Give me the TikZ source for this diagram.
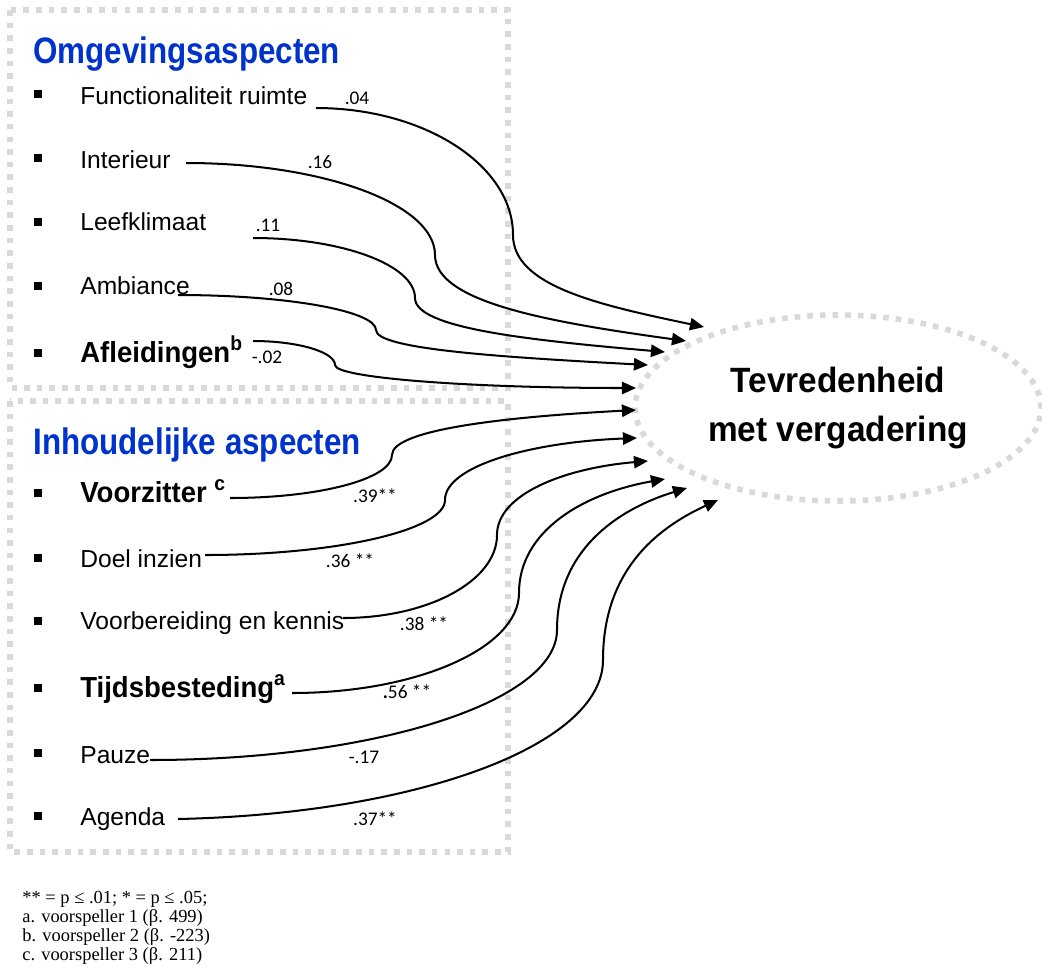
\documentclass[tikz,border=0pt]{standalone}
\usepackage{fontspec}
\setmainfont{Liberation Sans}
\newfontfamily\headfont[FakeStretch=0.85]{Liberation Sans}
\newfontfamily\strongfont[FakeStretch=0.95]{Liberation Sans}
\newfontfamily\coeffont{Carlito}
\newfontfamily\notefont{Liberation Serif}
\usepackage{tikz}
\usetikzlibrary{shapes,arrows.meta,positioning}
\definecolor{dotgray}{RGB}{217,217,217}
\definecolor{headblue}{RGB}{0,51,204}

\begin{document}
\begin{tikzpicture}[x=0.02cm, y=0.02cm,
    box/.style={draw=dotgray, line width=3.2pt, dash pattern=on 3.2pt off 4pt},
    heading/.style={anchor=base west, inner sep=0, text=headblue, font=\headfont\bfseries\fontsize{21}{25}\selectfont},
    item/.style={anchor=base west, inner sep=0, font=\fontsize{14}{17}\selectfont},
    bolditem/.style={item, font=\strongfont\bfseries\fontsize{16.5}{19}\selectfont},
    bullet/.style={rectangle, fill=black, minimum size=4.5pt, inner sep=0},
    coef/.style={anchor=base, inner sep=0, font=\coeffont\fontsize{11}{13}\selectfont},
    arrow/.style={-{Triangle[length=8pt,width=7pt]}, line width=1.15pt}
]
    \useasboundingbox (0,0) rectangle (1042,-968);

    % Boxes
    \draw[box] (10,-10) rectangle (508,-388);
    \draw[box] (10,-401) rectangle (508,-852);

    % Outcome
    \node[ellipse, box, minimum width=8.12cm, minimum height=3.72cm, inner sep=0, align=center,
          font=\strongfont\bfseries\fontsize{20}{28}\selectfont] (tev) at (838,-408) {Tevredenheid\\met vergadering};

    % Omgevingsaspecten
    \node[heading] (omg) at (33,-63) {Omgevingsaspecten};
    \node[bullet] (b1) at (38,-94) {};
    \node[bullet] (b2) at (38,-158) {};
    \node[bullet] (b3) at (38,-222) {};
    \node[bullet] (b4) at (38,-286) {};
    \node[bullet] (b5) at (38,-353) {};
    \node[item] (func) at (80,-104) {Functionaliteit ruimte};
    \node[item] (inter) at (80,-168) {Interieur};
    \node[item] (leef) at (80,-230) {Leefklimaat};
    \node[item] (amb) at (80,-294) {Ambiance};
    \node[bolditem] (afl) at (80,-362) {Afleidingen\textsuperscript{b}};

    % Inhoudelijke aspecten
    \node[heading] (inh) at (33,-454) {Inhoudelijke aspecten};
    \node[bullet] (b6) at (38,-493) {};
    \node[bullet] (b7) at (38,-558) {};
    \node[bullet] (b8) at (38,-621) {};
    \node[bullet] (b9) at (38,-688) {};
    \node[bullet] (b10) at (38,-753) {};
    \node[bullet] (b11) at (38,-816) {};
    \node[bolditem] (voorz) at (80,-502) {Voorzitter \textsuperscript{c}};
    \node[item] (doel) at (80,-567) {Doel inzien};
    \node[item] (voorb) at (80,-629) {Voorbereiding en kennis};
    \node[bolditem] (tijd) at (80,-697) {Tijdsbesteding\textsuperscript{a}};
    \node[item] (pauze) at (80,-763) {Pauze};
    \node[item] (agenda) at (80,-825) {Agenda};

    % Start and end points of the paths
    \coordinate (func-s) at (316,-108);   \coordinate (func-e) at (704,-327);
    \coordinate (inter-s) at (186,-163);  \coordinate (inter-e) at (686,-341);
    \coordinate (leef-s) at (253,-238);   \coordinate (leef-e) at (665,-352);
    \coordinate (amb-s) at (178,-295);    \coordinate (amb-e) at (648,-365);
    \coordinate (afl-s) at (253,-341);    \coordinate (afl-e) at (636,-388);
    \coordinate (voorz-s) at (230,-498);  \coordinate (voorz-e) at (636,-410);
    \coordinate (doel-s) at (205,-555);   \coordinate (doel-e) at (637,-438);
    \coordinate (voorb-s) at (343,-618);  \coordinate (voorb-e) at (648,-461);
    \coordinate (tijd-s) at (292,-693);   \coordinate (tijd-e) at (665,-479);
    \coordinate (pauze-s) at (150,-760);  \coordinate (pauze-e) at (687,-488);
    \coordinate (agenda-s) at (178,-819); \coordinate (agenda-e) at (718,-500);

    % Paths
    \draw[arrow] (func-s) .. controls +(108,0) and +(0,70) .. (513,-235) .. controls +(0,-51) and +(-105,22) .. (func-e);
    \draw[arrow] (inter-s) .. controls +(137,0) and +(0,51) .. (435,-255) .. controls +(0,-47) and +(-138,19) .. (inter-e);
    \draw[arrow] (leef-s) .. controls +(89,0) and +(0,33) .. (415,-298) .. controls +(0,-30) and +(-138,12) .. (leef-e);
    \draw[arrow] (amb-s) .. controls +(109,0) and +(0,19) .. (376,-330) .. controls +(0,-19) and +(-150,8) .. (amb-e);
    \draw[arrow] (afl-s) .. controls +(45,0) and +(0,13) .. (335,-365) .. controls +(0,-13) and +(-165,0) .. (afl-e);
    \draw[arrow] (voorz-s) .. controls +(89,0) and +(0,-24) .. (392,-455) .. controls +(0,25) and +(-134,-7) .. (voorz-e);
    \draw[arrow] (doel-s) .. controls +(132,0) and +(0,-30) .. (445,-500) .. controls +(0,34) and +(-106,-4) .. (doel-e);
    \draw[arrow] (voorb-s) .. controls +(85,0) and +(0,-46) .. (497,-535) .. controls +(0,41) and +(-83,-7) .. (voorb-e);
    \draw[arrow] (tijd-s) .. controls +(125,0) and +(0,-55) .. (519,-593) .. controls +(0,63) and +(-80,-14) .. (tijd-e);
    \draw[arrow] (pauze-s) .. controls +(224,0) and +(0,-72) .. (557,-630) .. controls +(0,78) and +(-72,-22) .. (pauze-e);
    \draw[arrow] (agenda-s) .. controls +(234,5) and +(0,-87) .. (603,-660) .. controls +(0,88) and +(-63,-29) .. (agenda-e);

    % Coefficients
    \node[coef] (c1) at (357,-104) {.04};
    \node[coef] (c2) at (320,-168) {.16};
    \node[coef] (c3) at (268,-231) {.11};
    \node[coef] (c4) at (281,-295) {.08};
    \node[coef] (c5) at (267,-363) {-.02};
    \node[coef] (c6) at (375,-502) {.39**};
    \node[coef] (c7) at (350,-567) {.36 **};
    \node[coef] (c8) at (424,-630) {.38 **};
    \node[coef] (c9) at (407,-698) {\textbf{.}56 **};
    \node[coef] (c10) at (364,-763) {-.17};
    \node[coef] (c11) at (375,-825) {.37**};

    % Notes
    \node[anchor=base west, inner sep=0, align=left, font=\notefont\fontsize{10.5}{10.8}\selectfont] (note) at (22,-960)
        {** = p ≤ .01; * = p ≤ .05;\\a. voorspeller 1 (β. 499)\\b. voorspeller 2 (β. -223)\\c. voorspeller 3 (β. 211)};
\end{tikzpicture}
\end{document}
